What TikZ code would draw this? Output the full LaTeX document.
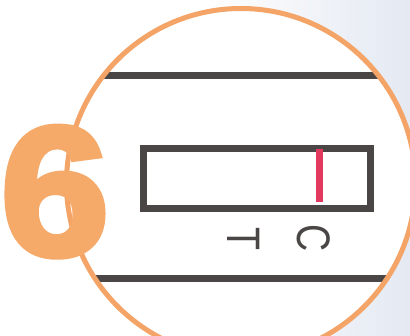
\documentclass[tikz,border=0pt]{standalone}
\usepackage{fontspec}
\setmainfont{Liberation Sans}
\newfontfamily\sixfont[FakeBold=3.2,FakeStretch=1.07]{Liberation Sans Bold}
\newfontfamily\tcfont[FakeStretch=0.8]{Liberation Sans}
\definecolor{ringorange}{HTML}{F3A466}
\definecolor{sixorange}{HTML}{F6AA6A}
\definecolor{stripgray}{HTML}{4A4646}
\definecolor{ctrlred}{HTML}{E23A5E}
\definecolor{bgtint}{HTML}{E4E9F2}
\tikzset{
  darkline/.style={draw=stripgray, line width=7pt},
  ring/.style={draw=ringorange, line width=5pt},
  letter/.style={inner sep=0pt, rotate=-90, text=stripgray, font=\tcfont\fontsize{47pt}{47pt}\selectfont},
}
\begin{document}
\begin{tikzpicture}[x=1pt,y=-1pt]
\useasboundingbox (0,0) rectangle (410,336);
\shade[left color=white, right color=bgtint, middle color=white] (0,0) rectangle (410,336);
\coordinate (ctr) at (241,183);
\begin{scope}
  \clip (ctr) circle[radius=174.5];
  \fill[white] (ctr) circle[radius=174.5];
  \coordinate (tl) at (60,75.5);
  \coordinate (tr) at (420,75.5);
  \coordinate (bl) at (60,279);
  \coordinate (br) at (420,279);
  \draw[darkline] (tl) -- (tr);
  \draw[darkline] (bl) -- (br);
\end{scope}
\node[ring, circle, minimum size=349pt, inner sep=0pt] (ringnode) at (ctr) {};
\node[darkline, rectangle, inner sep=0pt, minimum width=226.5pt, minimum height=60pt, anchor=north west] (strip) at (140,145.5) {};
\coordinate (rtop) at (319,149);
\coordinate (rbot) at (319,202);
\draw[draw=ctrlred, line width=7pt] (rtop) -- (rbot);
\node[letter] (tlabel) at (244,239) {T};
\node[letter] (clabel) at (313.5,238.5) {C};
\node[inner sep=0pt, anchor=base west, text=sixorange, font=\sixfont\fontsize{184pt}{184pt}\selectfont] (six) at (0,255) {6};
\end{tikzpicture}
\end{document}
